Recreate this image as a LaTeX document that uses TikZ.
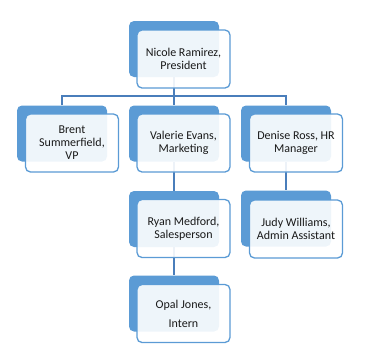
\documentclass[tikz,border=0pt]{standalone}
\usepackage{fontspec}
\setmainfont{Carlito}
\usetikzlibrary{backgrounds}
\definecolor{boxblue}{HTML}{5B9BD5}
\definecolor{linkblue}{HTML}{4A7EBB}

\begin{document}
\begin{tikzpicture}[x=1pt,y=-1pt]
\tikzset{
  backbox/.style={rectangle,rounded corners=5pt,fill=boxblue,minimum width=90pt,minimum height=56pt,inner sep=0pt},
  frontbox/.style={rectangle,rounded corners=5pt,draw=boxblue,line width=1.3pt,fill=white,fill opacity=0.9,text opacity=1,
    minimum width=93pt,minimum height=58pt,inner sep=2pt,align=center,text=black!90,font=\fontsize{12}{13}\selectfont},
  orgline/.style={draw=linkblue,line width=1.5pt}
}
\useasboundingbox (0,0) rectangle (365,357);
% back boxes
\node[backbox] (nicoleB) at (174,49) {};
\node[backbox] (brentB) at (62,133.5) {};
\node[backbox] (valerieB) at (174,133.5) {};
\node[backbox] (deniseB) at (286,133.5) {};
\node[backbox] (ryanB) at (174,219) {};
\node[backbox] (judyB) at (286,218.5) {};
\node[backbox] (opalB) at (174,303.5) {};
\coordinate (bus) at (174,96);
% connectors, behind the boxes
\begin{scope}[on background layer]
\draw[orgline] (nicoleB) -- (bus);
\draw[orgline] (brentB) |- (bus) -| (deniseB);
\draw[orgline] (bus) -- (valerieB);
\draw[orgline] (valerieB) -- (ryanB);
\draw[orgline] (ryanB) -- (opalB);
\draw[orgline] (deniseB) -- (judyB);
\end{scope}
% front boxes
\node[frontbox] (nicole) at ([shift={(9.5,10)}]nicoleB.center) {Nicole Ramirez,\\President};
\node[frontbox] (brent) at ([shift={(10,9.5)}]brentB.center) {Brent\\Summerfield,\\VP};
\node[frontbox] (valerie) at ([shift={(9.5,9.5)}]valerieB.center) {Valerie Evans,\\Marketing};
\node[frontbox] (denise) at ([shift={(10,9.5)}]deniseB.center) {Denise Ross, HR\\Manager};
\node[frontbox] (ryan) at ([shift={(9.5,9.5)}]ryanB.center) {Ryan Medford,\\Salesperson};
\node[frontbox] (judy) at ([shift={(10,10.5)}]judyB.center) {Judy Williams,\\Admin Assistant};
\node[frontbox] (opal) at ([shift={(9.5,10)}]opalB.center) {Opal Jones,\\[6pt]Intern};
\end{tikzpicture}
\end{document}
